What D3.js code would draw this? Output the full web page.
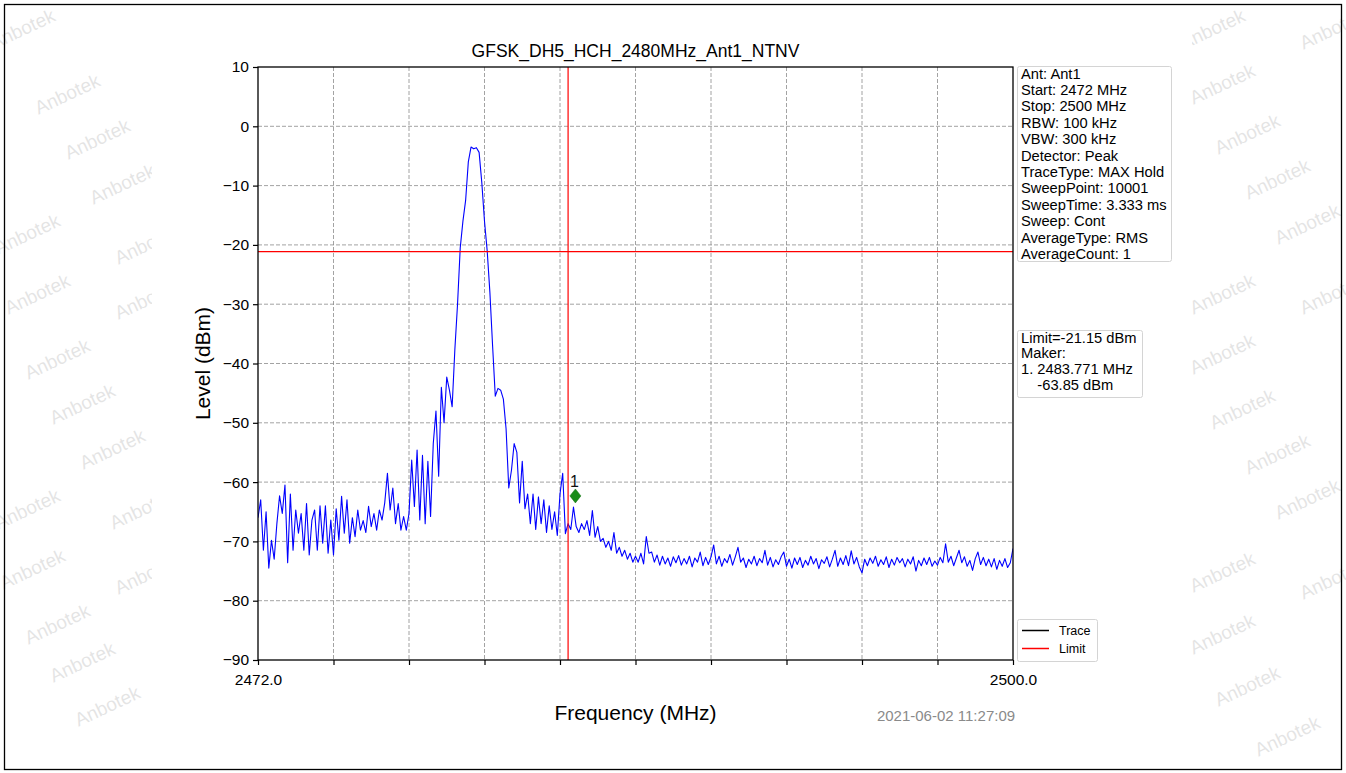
<!DOCTYPE html>
<html>
<head>
<meta charset="utf-8">
<script src="https://d3js.org/d3.v7.min.js"></script>
<style>
  html,body{margin:0;padding:0;background:#fff;}
  svg{display:block;}
  text{font-family:"Liberation Sans",Arial,Helvetica,sans-serif;}
</style>
</head>
<body>
<svg id="chart" width="1346" height="773"></svg>
<script>
// ---------------- DATA ----------------
const chartTitle = "GFSK_DH5_HCH_2480MHz_Ant1_NTNV";
const freqStart = 2472.0;
const freqStop = 2500.0;
const freqStep = 0.1;            // MHz between trace samples
const levelMin = -90, levelMax = 10;
const yTickValues = [10, 0, -10, -20, -30, -40, -50, -60, -70, -80, -90];
const xTickLabels = ["2472.0", "", "", "", "", "", "", "", "", "", "2500.0"];
// trace levels (dBm), one per freqStep starting at freqStart
const traceLevels = [
  -66, -63, -71.5, -65, -74.5, -69.8, -73, -67, -62.3, -65.3,
  -60.5, -73.6, -62, -71.5, -64.7, -68.6, -65.3, -71.5, -63.6, -72.3,
  -66.4, -64.7, -71.5, -64, -70.3, -64, -72, -66.4, -72.3, -64.5,
  -69.8, -62.4, -68.6, -63, -70.3, -66, -69.2, -64.7, -68.1, -66.5,
  -68.5, -64.1, -67.5, -65.3, -68.1, -64.7, -66.4, -63.5, -58.5, -64.7,
  -61, -67, -63.6, -68.1, -65.8, -68.1, -65.3, -56.3, -64.1, -54.6,
  -66.4, -55.5, -67, -56.5, -65.8, -53.5, -48, -59, -44, -50,
  -42.3, -44.5, -47.3, -37.7, -30, -20.5, -16, -12.5, -6, -3.5,
  -3.8, -3.6, -4.4, -9.5, -16, -21, -28, -37, -45.5, -44.2,
  -44.5, -46, -51, -61, -58, -53.5, -55, -63.5, -56.5, -64.5,
  -62, -67, -62, -68, -62.5, -67, -63, -68.5, -64, -68,
  -65, -69, -62, -58.5, -68.7, -67, -68, -64.2, -67.5, -68.5,
  -67, -68, -66.5, -69, -64.8, -69.3, -67.5, -70, -69.5, -71,
  -70, -71.5, -68.5, -72, -71, -72.5, -71.5, -73, -72, -73.5,
  -72.5, -73.5, -72, -73.8, -69.2, -72, -71.8, -73.5, -72.3, -74,
  -72.5, -73.8, -72.8, -74.2, -72.6, -73.6, -72.4, -74, -72.9, -73.8,
  -72.5, -74.3, -72.8, -73.5, -71.8, -74.1, -72.7, -73.9, -72.6, -70.6,
  -73.8, -72.5, -74.2, -72.9, -73.6, -72.2, -74, -72.6, -71, -73.5,
  -72.8, -74.4, -73, -73.8, -72.5, -74.1, -72.9, -73.6, -71.5, -74,
  -72.7, -74.3, -73.1, -73.9, -72.6, -71.8, -74.2, -73, -74.5, -72.8,
  -73.9, -72.7, -74.4, -73.2, -74, -72.5, -73.8, -72.9, -74.6, -73.1,
  -73.7, -72.6, -74.3, -73, -71.5, -74.2, -72.8, -73.9, -72.4, -74.1,
  -71.6, -73.8, -72.7, -74.3, -75.3, -73, -74.1, -72.8, -73.7, -72.5,
  -74.2, -73.1, -73.9, -72.6, -74.4, -73, -74, -72.7, -73.6, -72.9,
  -74.3, -73, -73.8, -72.6, -75, -73.2, -74.1, -72.8, -73.9, -72.7,
  -74.2, -73.3, -74, -72.7, -73.6, -70.4, -73.5, -72.5, -74.1, -72.8,
  -71.5, -73.6, -72.6, -74.2, -73.2, -74.9, -72.9, -71.8, -73.9, -72.7,
  -74.1, -73, -74.3, -72.9, -74.7, -73.2, -74.2, -72.9, -74.4, -73.6,
  -71.2
];
const limitLevel = -21.15;        // dBm
const bandEdgeFreq = 2483.5;      // MHz (vertical red line)
const markerFreq = 2483.771;      // MHz
const markerLevel = -63.85;       // dBm
const markerLabel = "1";
const infoLines = ["Ant: Ant1", "Start: 2472 MHz", "Stop: 2500 MHz", "RBW: 100 kHz", "VBW: 300 kHz",
  "Detector: Peak", "TraceType: MAX Hold", "SweepPoint: 10001", "SweepTime: 3.333 ms", "Sweep: Cont",
  "AverageType: RMS", "AverageCount: 1"];
const limitLines = ["Limit=-21.15 dBm", "Maker:", "1. 2483.771 MHz", "    -63.85 dBm"];
const legendItems = [{name: "Trace", color: "#000000"}, {name: "Limit", color: "#ff0000"}];
const timestamp = "2021-06-02 11:27:09";
const watermarkText = "Anbotek";
const watermarkSpots = [
  [25,35],[70,100],[100,145],[125,190],[30,240],[150,250],[40,300],[150,305],
  [60,365],[85,410],[115,455],[30,515],[145,515],[35,575],[150,580],[60,630],[85,668],[110,712],
  [1215,35],[1335,35],[1225,90],[1250,140],[1280,185],[1310,230],[1225,300],[1335,300],
  [1225,360],[1245,415],[1280,460],[1310,505],[1225,578],[1335,585],[1225,640],[1250,692],[1290,742]
];

// ---------------- LAYOUT ----------------
const W = 1346, H = 773;
const plot = {left: 258, top: 67, right: 1013, bottom: 660};

const svg = d3.select("#chart");

// watermark background
const wm = svg.append("g");
watermarkSpots.forEach(([x, y]) => {
  wm.append("text").attr("x", x).attr("y", y)
    .attr("text-anchor", "middle")
    .attr("transform", `rotate(-25,${x},${y})`)
    .style("font-size", "19px")
    .style("fill", "#000").style("opacity", 0.1)
    .text(watermarkText);
});
// white figure canvas covering the middle
svg.append("rect").attr("x", 152).attr("y", 5).attr("width", 1040).attr("height", 763).attr("fill", "#fff");

// outer frame
svg.append("rect").attr("x", 4.5).attr("y", 4.5).attr("width", W - 9).attr("height", H - 8)
  .attr("fill", "none").attr("stroke", "#000").attr("stroke-width", 1.3);

const x = d3.scaleLinear().domain([freqStart, freqStop]).range([plot.left, plot.right]);
const y = d3.scaleLinear().domain([levelMin, levelMax]).range([plot.bottom, plot.top]);

const xTickValues = d3.range(0, 11).map(i => freqStart + i * (freqStop - freqStart) / 10);

// grid
const grid = svg.append("g");
xTickValues.slice(1, -1).forEach(v => {
  grid.append("line").attr("x1", x(v)).attr("x2", x(v)).attr("y1", plot.top).attr("y2", plot.bottom)
    .attr("stroke", "#8c8c8c").attr("stroke-width", 0.8).attr("stroke-dasharray", "4,2");
});
yTickValues.slice(1, -1).forEach(v => {
  grid.append("line").attr("x1", plot.left).attr("x2", plot.right).attr("y1", y(v)).attr("y2", y(v))
    .attr("stroke", "#8c8c8c").attr("stroke-width", 0.8).attr("stroke-dasharray", "4,2");
});

// clip
svg.append("defs").append("clipPath").attr("id", "clip")
  .append("rect").attr("x", plot.left).attr("y", plot.top)
  .attr("width", plot.right - plot.left).attr("height", plot.bottom - plot.top);

const traceData = traceLevels.map((v, i) => ({f: freqStart + i * freqStep, v}));
const line = d3.line().x(d => x(d.f)).y(d => y(d.v));

const content = svg.append("g").attr("clip-path", "url(#clip)");
content.append("path").datum(traceData).attr("d", line)
  .attr("fill", "none").attr("stroke", "#0000ff").attr("stroke-width", 1.1).attr("stroke-linejoin", "round");

// limit line
content.append("line").attr("x1", plot.left).attr("x2", plot.right)
  .attr("y1", y(limitLevel)).attr("y2", y(limitLevel))
  .attr("stroke", "#ff0000").attr("stroke-width", 1.2);
content.append("line").attr("x1", x(bandEdgeFreq)).attr("x2", x(bandEdgeFreq))
  .attr("y1", plot.top).attr("y2", plot.bottom)
  .attr("stroke", "#ff0000").attr("stroke-width", 1.2);

// marker (diamond drawn just above the marked trace point)
const mx = x(markerFreq), my = y(markerLevel) - 9;
svg.append("path")
  .attr("d", `M${mx},${my - 7} L${mx + 5.5},${my} L${mx},${my + 7} L${mx - 5.5},${my} Z`)
  .attr("fill", "#1a8c1a").attr("stroke", "#0f6e0f").attr("stroke-width", 0.5);
svg.append("text").attr("x", mx - 1).attr("y", my - 9).attr("text-anchor", "middle")
  .style("font-size", "16px").style("fill", "#111").text(markerLabel);

// axes
const xAxis = d3.axisBottom(x).tickValues(xTickValues)
  .tickFormat((d, i) => xTickLabels[i]).tickSizeInner(5).tickSizeOuter(0).tickPadding(9);
const gx = svg.append("g").attr("transform", `translate(0,${plot.bottom})`).call(xAxis);
gx.selectAll("text").style("font-size", "15.5px").style("fill", "#000");

const yAxis = d3.axisLeft(y).tickValues(yTickValues).tickFormat(d3.format("d"))
  .tickSizeInner(5).tickSizeOuter(0).tickPadding(4);
const gy = svg.append("g").attr("transform", `translate(${plot.left},0)`).call(yAxis);
gy.selectAll("text").style("font-size", "15.5px").style("fill", "#000");
[gx, gy].forEach(g => {
  g.select(".domain").remove();
  g.selectAll(".tick line").attr("stroke", "#000").attr("stroke-width", 1.2);
});

// frame
svg.append("rect").attr("x", plot.left).attr("y", plot.top)
  .attr("width", plot.right - plot.left).attr("height", plot.bottom - plot.top)
  .attr("fill", "none").attr("stroke", "#000").attr("stroke-width", 1.3);

// title and labels
svg.append("text").attr("x", (plot.left + plot.right) / 2).attr("y", 57).attr("text-anchor", "middle")
  .style("font-size", "17.5px").style("fill", "#000").text(chartTitle);
svg.append("text").attr("x", (plot.left + plot.right) / 2).attr("y", 720).attr("text-anchor", "middle")
  .style("font-size", "21px").style("fill", "#000").text("Frequency (MHz)");
svg.append("text").attr("transform", `translate(210,${(plot.top + plot.bottom) / 2}) rotate(-90)`)
  .attr("text-anchor", "middle").style("font-size", "21px").style("fill", "#000").text("Level (dBm)");
svg.append("text").attr("x", 946).attr("y", 721).attr("text-anchor", "middle")
  .style("font-size", "15px").style("fill", "#8a8a8a").text(timestamp);

// info box
function textBox(lines, x0, y0, w, h, lh, fs) {
  const g = svg.append("g");
  g.append("rect").attr("x", x0).attr("y", y0).attr("width", w).attr("height", h).attr("rx", 2)
    .attr("fill", "#fff").attr("stroke", "#d4d4d4").attr("stroke-width", 1);
  lines.forEach((t, i) => {
    g.append("text").attr("x", x0 + 3.5).attr("y", y0 + 12 + i * lh)
      .style("font-size", fs + "px").style("fill", "#000").style("white-space", "pre")
      .attr("xml:space", "preserve").text(t);
  });
}
textBox(infoLines, 1017.5, 66.5, 154, 195, 16.4, 14.7);
textBox(limitLines, 1017.5, 330.5, 125, 67, 15.7, 14.7);

// legend
const lg = svg.append("g");
lg.append("rect").attr("x", 1017.5).attr("y", 619.5).attr("width", 80).attr("height", 42).attr("rx", 2)
  .attr("fill", "#fff").attr("stroke", "#d4d4d4");
legendItems.forEach((d, i) => {
  const yy = 630.5 + i * 18;
  lg.append("line").attr("x1", 1022).attr("x2", 1049).attr("y1", yy).attr("y2", yy)
    .attr("stroke", d.color).attr("stroke-width", 1.5);
  lg.append("text").attr("x", 1059).attr("y", yy + 4.5).style("font-size", "12.5px").style("fill", "#000").text(d.name);
});
</script>
</body>
</html>
